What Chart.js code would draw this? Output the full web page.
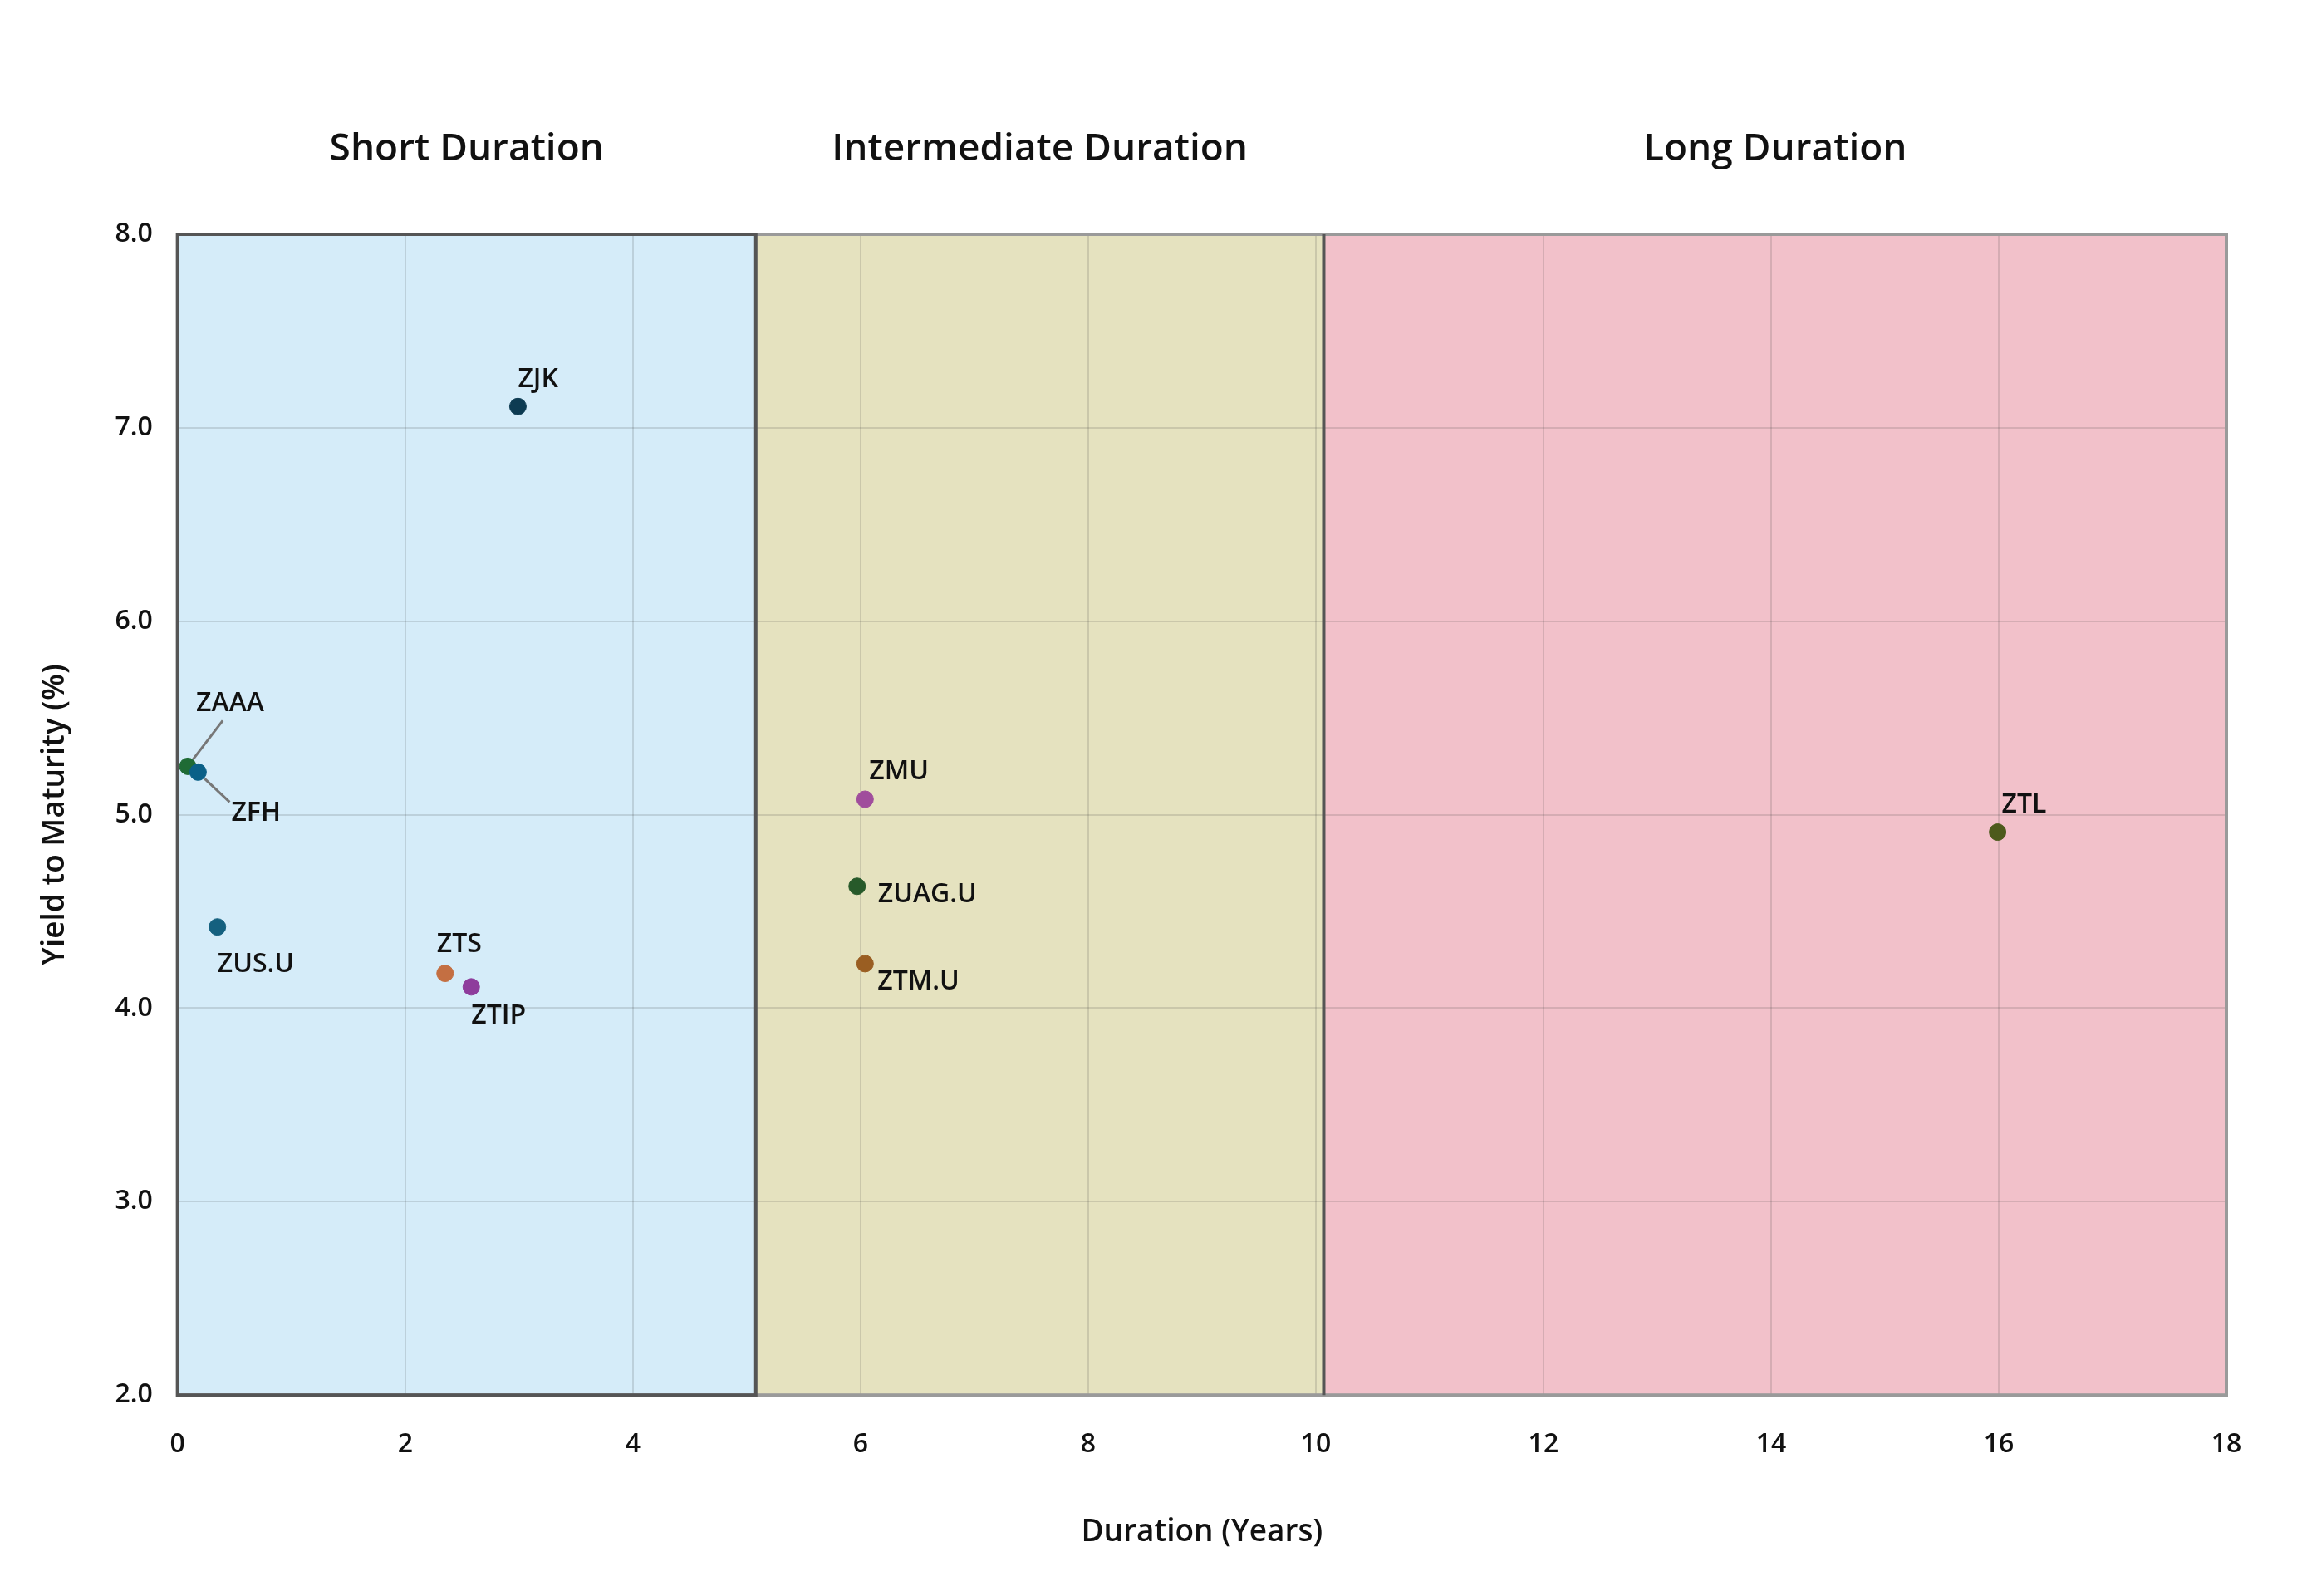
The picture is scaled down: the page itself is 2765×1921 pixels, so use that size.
<!DOCTYPE html>
<html>
<head>
<meta charset="utf-8">
<script src="https://cdn.jsdelivr.net/npm/chart.js@4/dist/chart.umd.min.js"></script>
<style>
  html, body { margin: 0; padding: 0; background: #fff; }
  canvas { display: block; }
</style>
</head>
<body>
<canvas id="yieldChart" width="2765" height="1921"></canvas>
<script>
// data
const tickers = ['ZJK', 'ZAAA', 'ZFH', 'ZUS.U', 'ZTS', 'ZTIP', 'ZMU', 'ZUAG.U', 'ZTM.U', 'ZTL'];
const durations = [2.99, 0.09, 0.18, 0.35, 2.35, 2.58, 6.04, 5.97, 6.04, 15.99];
const yields = [7.11, 5.25, 5.22, 4.42, 4.18, 4.11, 5.08, 4.63, 4.23, 4.91];
const pointColors = ['#0d3b52', '#1f6b35', '#0a6088', '#14607f', '#c46f42', '#8e3c9c', '#a04d9c', '#275a2a', '#9a5e22', '#4d5a1c'];

const regionNames = ['Short Duration', 'Intermediate Duration', 'Long Duration'];
const regionBounds = [0, 5.08, 10.07, 18];
const regionFills = ['#d5ecf9', '#e5e2bf', '#f2c1ca'];

// label placement (pixels from point) and optional leader lines
const labelOffsets = [
    [0, -32], [10, -75], [40, 50], [0, 45], [-10, -35], [0, 35],
    [5, -33], [25, 10], [15, 22], [5, -33]
];
const leaders = { 'ZAAA': [[6, -8], [42, -55]], 'ZFH': [[8, 8], [38, 36]] };

const FONT = '"Open Sans", "Noto Sans", sans-serif';

const regionPlugin = {
    id: 'regions',
    beforeDraw(chart) {
        const ctx = chart.ctx, x = chart.scales.x, a = chart.chartArea;
        ctx.save();
        for (let i = 0; i < regionNames.length; i++) {
            const x0 = x.getPixelForValue(regionBounds[i]);
            const x1 = x.getPixelForValue(regionBounds[i + 1]);
            ctx.fillStyle = regionFills[i];
            ctx.fillRect(x0, a.top, x1 - x0, a.bottom - a.top);
            ctx.fillStyle = '#111';
            ctx.font = '600 46px ' + FONT;
            ctx.textAlign = 'center';
            ctx.textBaseline = 'middle';
            ctx.fillText(regionNames[i], (x0 + x1) / 2, 180);
        }
        ctx.restore();
    },
    afterDatasetsDraw(chart) {
        const ctx = chart.ctx, x = chart.scales.x, y = chart.scales.y, a = chart.chartArea;
        ctx.save();
        // outer frame
        ctx.strokeStyle = '#9a9a9a';
        ctx.lineWidth = 4;
        ctx.strokeRect(a.left, a.top, a.right - a.left, a.bottom - a.top);
        // short-region frame and dividers
        const x1 = x.getPixelForValue(regionBounds[1]);
        const x2 = x.getPixelForValue(regionBounds[2]);
        ctx.strokeStyle = '#555';
        ctx.strokeRect(a.left, a.top, x1 - a.left, a.bottom - a.top);
        ctx.beginPath();
        ctx.moveTo(x2, a.top); ctx.lineTo(x2, a.bottom);
        ctx.stroke();

        // point labels
        ctx.font = '600 32px ' + FONT;
        ctx.fillStyle = '#111';
        ctx.textAlign = 'left';
        ctx.textBaseline = 'middle';
        tickers.forEach((t, i) => {
            const px = x.getPixelForValue(durations[i]);
            const py = y.getPixelForValue(yields[i]);
            const off = labelOffsets[i];
            if (leaders[t]) {
                const l = leaders[t];
                ctx.strokeStyle = '#777';
                ctx.lineWidth = 3;
                ctx.beginPath();
                ctx.moveTo(px + l[0][0], py + l[0][1]);
                ctx.lineTo(px + l[1][0], py + l[1][1]);
                ctx.stroke();
            }
            ctx.fillText(t, px + off[0], py + off[1]);
        });
        ctx.restore();
    }
};

const ctx = document.getElementById('yieldChart').getContext('2d');
const yieldChart = new Chart(ctx, {
    type: 'scatter',
    data: {
        datasets: [{
            data: durations.map((d, i) => ({ x: d, y: yields[i] })),
            pointBackgroundColor: pointColors,
            pointBorderColor: pointColors,
            pointRadius: 10,
            pointHoverRadius: 10
        }]
    },
    options: {
        responsive: false,
        devicePixelRatio: 1,
        animation: false,
        layout: { padding: { top: 282, right: 85, bottom: 50, left: 40 } },
        plugins: { legend: { display: false }, tooltip: { enabled: false } },
        scales: {
            x: {
                type: 'linear', min: 0, max: 18,
                border: { display: false },
                grid: { color: 'rgba(60,60,60,0.16)', lineWidth: 2, drawTicks: false },
                ticks: {
                    stepSize: 2, padding: 40, color: '#111',
                    font: { family: FONT, size: 32, weight: '600' }
                },
                title: {
                    display: true, text: 'Duration (Years)', color: '#111',
                    font: { family: FONT, size: 37, weight: '600' }, padding: { top: 25 }
                }
            },
            y: {
                min: 2, max: 8,
                border: { display: false },
                grid: { color: 'rgba(60,60,60,0.16)', lineWidth: 2, drawTicks: false },
                ticks: {
                    stepSize: 1, padding: 30, color: '#111',
                    font: { family: FONT, size: 32, weight: '600' },
                    callback: v => v.toFixed(1)
                },
                title: {
                    display: true, text: 'Yield to Maturity (%)', color: '#111',
                    font: { family: FONT, size: 37, weight: '600' }, padding: { bottom: 20 }
                }
            }
        }
    },
    plugins: [regionPlugin]
});
</script>
</body>
</html>
